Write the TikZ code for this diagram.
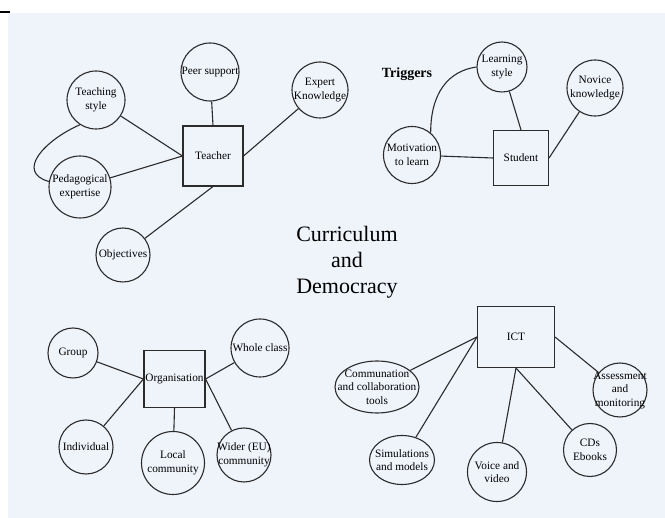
\documentclass[tikz,border=0pt]{standalone}
\usepackage{fontspec}
\setmainfont{Liberation Serif}
\usetikzlibrary{shapes.geometric}
\definecolor{Paper}{HTML}{EFF3FA}
\definecolor{Ink}{HTML}{2B2B2B}

\begin{document}
\begin{tikzpicture}[x=1pt,y=-1pt,
    idea/.style={circle,draw=Ink,line width=1.1pt,inner sep=-8pt,align=center,
      font=\fontsize{11.3}{13.5}\selectfont},
    hub/.style={rectangle,draw=Ink,line width=1.1pt,inner sep=0pt,
      font=\fontsize{11.3}{13.5}\selectfont},
    link/.style={draw=Ink,line width=1.1pt}]
    \useasboundingbox (0,0) rectangle (665,518);
    \fill[Paper] (8,13) rectangle (665,518);
    \draw[line width=2pt] (0,12) -- (10,12);

    \node[align=center,font=\fontsize{22}{26}\selectfont] (title) at (347,262) {Curriculum\\and\\Democracy};

    \node[hub,minimum size=60] (teacher) at (213,156) {Teacher};
    \node[idea,minimum size=58] (peer) at (210,72) {Peer support};
    \node[idea,minimum size=58] (tstyle) at (96,100) {Teaching\\style};
    \node[idea,minimum size=56] (expert) at (320,90) {Expert\\Knowledge};
    \node[idea,minimum size=62] (pedag) at (80,187) {Pedagogical\\expertise};
    \node[idea,minimum size=54] (object) at (123,255) {Objectives};

    \node[font=\bfseries\fontsize{14}{16}\selectfont] (trig) at (407,74) {Triggers};
    \node[hub,minimum size=55] (student) at (521,158) {Student};
    \node[idea,minimum size=50] (lstyle) at (502,67) {Learning\\style};
    \node[idea,minimum size=56] (novice) at (595,88) {Novice\\knowledge};
    \node[idea,minimum size=57] (motiv) at (412,155) {Motivation\\to learn};

    \node[hub,minimum width=61,minimum height=57] (org) at (174.5,379) {Organisation};
    \node[idea,minimum size=50] (group) at (73,353) {Group};
    \node[idea,minimum size=54] (indiv) at (86,447) {Individual};
    \node[idea,minimum size=58] (whole) at (260,348) {Whole class};
    \node[idea,minimum size=63] (local) at (173,463) {Local\\community};
    \node[idea,minimum size=54] (wider) at (244,455) {Wider (EU)\\community};

    \node[hub,minimum width=77,minimum height=61] (ict) at (516,337) {ICT};
    \node[idea,ellipse,minimum width=84,minimum height=52,inner xsep=-10pt] (comm) at (377,387) {Communation\\and collaboration\\tools};
    \node[idea,ellipse,minimum width=65,minimum height=49] (simul) at (402,460) {Simulations\\and models};
    \node[idea,minimum size=59] (voice) at (497,472) {Voice and\\video};
    \node[idea,minimum size=53] (cds) at (590,450) {CDs\\Ebooks};
    \node[idea,minimum size=54] (assess) at (620,390) {Assessment\\and\\monitoring};

    \foreach \a/\b in {peer/teacher.north,tstyle/teacher.west,pedag/teacher.west,
        expert/teacher.east,object/teacher.south,
        lstyle/student.north,novice/student.east,motiv/student.west,
        group/org.west,indiv/org.west,whole/org.east,wider/org.east,local/org.south,
        comm/ict.west,simul/ict.west,voice/ict.south,cds/ict.south,assess/ict.east}
      \draw[link] (\a) -- (\b);

    \draw[link] (tstyle.237) .. controls (45,140) and (15,172) .. (pedag.170);
    \draw[link] (lstyle.west) .. controls +(-28,4) and +(0,-40) .. (motiv.50);
  \end{tikzpicture}
\end{document}
